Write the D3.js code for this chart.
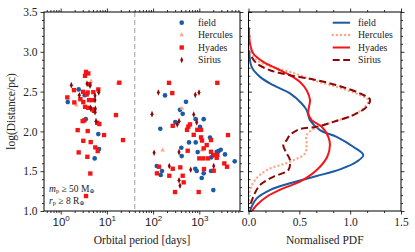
<!DOCTYPE html>
<html><head><meta charset="utf-8">
<script src="https://cdn.jsdelivr.net/npm/d3@7"></script>
<style>
html,body{margin:0;padding:0;background:#fff;}
svg{display:block;font-family:"Liberation Serif","DejaVu Serif",serif;}
</style></head>
<body><svg id="c" width="415" height="252"></svg>
<script>
// ---- data: [orbital period (days), log10(distance/pc)] ----
const fieldPts = [[2.45,2.527],[3.31,2.455],[1.42,2.368],[3.48,2.154],[6.51,1.966],[6.75,1.778],[5.44,1.661],
 [181,2.452],[515,2.371],[382,2.271],[437,2.221],[836,2.154],[1245,2.154],[302,2.117],[143,2.033],[1036,2.058],
 [1704,1.922],[599,1.862],[836,1.862],[408,1.794],[923,1.740],[416,1.690],[1979,1.703],[2381,1.744],[2630,1.753],
 [2905,1.769],[1818,1.674],[3600,1.711],[5837,1.624],[120,1.565],[156,1.502],[146,1.452],[819,1.531],[878,1.502],
 [1791,1.502],[1245,1.473],[1127,1.414],[2010,1.263]];
const herculesPts = [[4.53,2.631],[17.0,2.606],[2.18,2.330],[2.85,2.402],[422,2.289],[161,1.765],[1144,1.765]];
const hyadesPts = [[3.53,2.748],[3.96,2.728],[3.36,2.698],[18.6,2.612],[4.20,2.593],[1.94,2.518],[3.04,2.497],
 [3.84,2.489],[5.08,2.493],[6.51,2.527],[3.65,2.464],[1.39,2.427],[1.97,2.364],[3.08,2.368],[4.10,2.393],[4.83,2.393],
 [2.66,2.405],[3.36,2.309],[3.96,2.296],[4.83,2.276],[5.26,2.258],[15.7,2.205],[2.99,2.129],[3.24,2.138],[6.20,2.108],
 [6.85,2.092],[2.33,2.016],[3.84,2.004],[8.66,1.954],[22.3,1.891],[3.08,1.882],[4.46,1.866],[5.61,1.799],[6.32,1.753],
 [2.45,1.736],[3.77,1.681],[4.37,1.471],[3.53,1.188],
 [221,2.610],[2453,2.610],[260,2.481],[266,2.070],[629,2.088],[578,2.060],[542,2.020],[905,2.020],[1089,2.020],
 [757,1.957],[4180,1.954],[1089,1.925],[1144,1.885],[1791,1.891],[1446,1.828],[561,1.757],[1245,1.787],[1791,1.744],
 [2112,1.703],[2453,1.703],[1000,1.661],[1221,1.661],[1543,1.661],[2381,1.669],[3476,1.598],[3978,1.556],[134,1.556],
 [266,1.531],[388,1.548],[121,1.473],[224,1.443],[437,1.443],[1264,1.527],[2050,1.506],[459,1.360],[298,1.238],[970,1.238]];
const siriusPts = [[3.71,2.600],[1.70,2.581],[4.31,2.575],[6.65,2.489],[2.53,2.455],[5.53,2.449],[5.53,2.393],
 [4.46,2.296],[5.61,2.286],[5.53,2.242],[5.81,2.129],[130,2.489],[819,2.459],[985,2.489],[94.7,2.217],[757,2.213],
 [364,2.129],[334,2.088],[878,2.113],[105,1.731],[364,1.740],[224,1.565],[2050,1.565],[651,1.518],[364,1.385],[382,1.317]];

// ---- normalised PDFs: [pdf, log10(distance/pc)] ----
const pdfField = [[0.008,3.02],[0.031,2.81],[0.113,2.685],[0.244,2.58],[0.408,2.477],[0.523,2.351],[0.572,2.267],
 [0.588,2.205],[0.605,2.142],[0.703,2.016],[0.867,1.932],[1.030,1.807],[1.129,1.703],[1.064,1.619],[0.900,1.523],
 [0.671,1.439],[0.408,1.348],[0.211,1.263],[0.081,1.159],[0.031,1.054],[0.015,1.0]];
const pdfHercules = [[0.015,3.041],[0.064,2.916],[0.179,2.832],[0.408,2.748],[0.637,2.644],[0.867,2.560],[1.096,2.456],
 [1.178,2.393],[1.146,2.309],[1.030,2.205],[0.834,2.120],[0.654,2.04],[0.572,1.954],[0.572,1.828],[0.556,1.724],
 [0.408,1.619],[0.179,1.514],[0.064,1.389],[0.015,1.263],[0.008,1.097]];
const pdfHyades = [[0.005,3.305],[0.015,3.104],[0.047,2.979],[0.146,2.873],[0.277,2.790],[0.408,2.706],[0.506,2.622],
 [0.572,2.518],[0.605,2.393],[0.595,2.309],[0.588,2.226],[0.621,2.142],[0.720,2.058],[0.785,1.932],[0.801,1.828],
 [0.775,1.681],[0.671,1.514],[0.506,1.368],[0.342,1.285],[0.179,1.179],[0.081,1.075],[0.035,1.0]];
const pdfSirius = [[0.031,2.936],[0.081,2.853],[0.211,2.769],[0.408,2.706],[0.671,2.644],[0.900,2.568],[1.096,2.477],
 [1.195,2.401],[1.162,2.309],[1.030,2.205],[0.834,2.120],[0.671,2.058],[0.506,2.030],[0.408,1.954],[0.376,1.891],
 [0.342,1.828],[0.376,1.724],[0.408,1.640],[0.391,1.514],[0.244,1.430],[0.113,1.326],[0.047,1.179],[0.008,1.034]];

const seriesNames = ["field","Hercules","Hyades","Sirius"];
const colors = {field:"#1c5aa3", Hercules:"#fca88a", Hyades:"#f51515", Sirius:"#8a0808"};
const yTicks = [1.0,1.5,2.0,2.5,3.0,3.5];
const xTicksLog = [1,10,100,1000];
const xTicksPdf = [0,0.5,1.0,1.5];
const splitPeriod = 40;

const svg = d3.select("#c");
const L = {x0:44, x1:240}, R = {x0:248.5, x1:401}, T = 12, B = 211;
const y = d3.scaleLinear().domain([1,3.5]).range([B,T]);
const xL = d3.scaleLog().domain([0.435,7600]).range([L.x0,L.x1]);
const xR = d3.scaleLinear().domain([0,1.5]).range([R.x0,R.x1]);

function axisG(axis, tx, ty){
  const g = svg.append("g").attr("transform",`translate(${tx},${ty})`).call(axis);
  g.select(".domain").remove();
  g.selectAll("line").attr("stroke","#000").attr("stroke-width",0.8);
  g.selectAll("text").attr("font-size",11.5).attr("fill","#222").attr("font-family","Liberation Serif");
  return g;
}
const yMinor = d3.range(10,36).map(v=>v/10).filter(v=>Math.abs(v*2-Math.round(v*2))>1e-6);
const logMinor = [];
[0.1,1,10,100,1000].forEach(d=>{for(let k=2;k<=9;k++){const v=k*d; if(v>=0.435&&v<=7600) logMinor.push(v);}});
const pdfMinor = d3.range(0,31).map(i=>i*0.5/3).filter(v=>Math.abs(v*2-Math.round(v*2))>1e-6);

// Left panel axes
axisG(d3.axisLeft(y).tickValues(yTicks).tickSize(3.5).tickPadding(3).tickFormat(d3.format(".1f")), L.x0, 0);
axisG(d3.axisLeft(y).tickValues(yMinor).tickSize(2).tickFormat(""), L.x0, 0);
axisG(d3.axisRight(y).tickValues(yTicks).tickSize(3.5).tickFormat(""), L.x1, 0);
axisG(d3.axisRight(y).tickValues(yMinor).tickSize(2).tickFormat(""), L.x1, 0);
const bx = axisG(d3.axisBottom(xL).tickValues(xTicksLog).tickSize(3.5).tickPadding(4).tickFormat(""), 0, B);
bx.selectAll(".tick").append("text").attr("y",15).attr("text-anchor","middle").attr("font-size",11.5).attr("fill","#222")
  .each(function(d){ const t=d3.select(this); t.append("tspan").text("10");
     t.append("tspan").attr("dy",-5).attr("font-size",8).text(Math.round(Math.log10(d))); });
axisG(d3.axisBottom(xL).tickValues(logMinor).tickSize(2).tickFormat(""), 0, B);
axisG(d3.axisTop(xL).tickValues(xTicksLog).tickSize(3.5).tickFormat(""), 0, T);
axisG(d3.axisTop(xL).tickValues(logMinor).tickSize(2).tickFormat(""), 0, T);

// Right panel axes
axisG(d3.axisRight(y).tickValues(yTicks).tickSize(3.5).tickFormat(""), R.x0, 0);
axisG(d3.axisRight(y).tickValues(yMinor).tickSize(2).tickFormat(""), R.x0, 0);
axisG(d3.axisRight(y).tickValues(yTicks).tickSize(3.5).tickFormat(""), R.x1, 0);
axisG(d3.axisRight(y).tickValues(yMinor).tickSize(2).tickFormat(""), R.x1, 0);
axisG(d3.axisBottom(xR).tickValues(xTicksPdf).tickSize(3.5).tickPadding(3).tickFormat(d3.format(".1f")), 0, B);
axisG(d3.axisBottom(xR).tickValues(pdfMinor).tickSize(2).tickFormat(""), 0, B);
axisG(d3.axisTop(xR).tickValues(xTicksPdf).tickSize(3.5).tickFormat(""), 0, T);
axisG(d3.axisTop(xR).tickValues(pdfMinor).tickSize(2).tickFormat(""), 0, T);

// split line
svg.append("line").attr("x1",xL(splitPeriod)).attr("x2",xL(splitPeriod)).attr("y1",T).attr("y2",B)
  .attr("stroke","#bdbdbd").attr("stroke-width",1.4).attr("stroke-dasharray","5,3");

// markers
const gPts = svg.append("g");
const sym = {
  field: d3.symbol().type(d3.symbolCircle).size(17),
  Hercules: d3.symbol().type(d3.symbolTriangle).size(9),
  Hyades: d3.symbol().type(d3.symbolSquare).size(19),
};
function diamond(s){ return `M0,${-s*1.1}L${s*0.5},0L0,${s*1.1}L${-s*0.5},0Z`; }
function drawPts(data,name){
  gPts.selectAll(null).data(data).enter().append("path")
    .attr("transform",d=>`translate(${xL(d[0])},${y(d[1])})`)
    .attr("d", name==="Sirius" ? diamond(3) : sym[name]())
    .attr("fill",colors[name]);
}
drawPts(fieldPts,"field"); drawPts(herculesPts,"Hercules"); drawPts(hyadesPts,"Hyades"); drawPts(siriusPts,"Sirius");

// pdf curves
const line = d3.line().x(d=>xR(d[0])).y(d=>y(d[1])).curve(d3.curveCatmullRom.alpha(0.5));
const styles = {
  field:{w:2,dash:null,cap:"butt"},
  Hercules:{w:2.4,dash:"0.1,4",cap:"round"},
  Hyades:{w:2,dash:null,cap:"butt"},
  Sirius:{w:2,dash:"7,3.5",cap:"butt"}
};
svg.append("clipPath").attr("id","cr").append("rect").attr("x",R.x0).attr("y",T).attr("width",R.x1-R.x0).attr("height",B-T);
const gC = svg.append("g").attr("clip-path","url(#cr)");
[[pdfField,"field"],[pdfHercules,"Hercules"],[pdfHyades,"Hyades"],[pdfSirius,"Sirius"]].forEach(([d,n])=>{
  gC.append("path").attr("d",line(d)).attr("fill","none").attr("stroke",colors[n])
    .attr("stroke-width",styles[n].w).attr("stroke-dasharray",styles[n].dash).attr("stroke-linecap",styles[n].cap);
});

// frames
[[L.x0,L.x1],[R.x0,R.x1]].forEach(([a,b])=>svg.append("rect").attr("x",a).attr("y",T).attr("width",b-a).attr("height",B-T)
  .attr("fill","none").attr("stroke","#000").attr("stroke-width",1));

// legends
const rowY = [22.7,35,47.5,60];
const lg = svg.append("g");
seriesNames.forEach((n,i)=>{
  const p = lg.append("path").attr("transform",`translate(181.7,${rowY[i]})`).attr("fill",colors[n]);
  p.attr("d", n==="Sirius" ? diamond(3) : sym[n]());
  lg.append("text").attr("x",198).attr("y",rowY[i]+3.3).attr("font-size",9.8).attr("fill","#222").text(n);
  lg.append("line").attr("x1",332.7).attr("x2",350).attr("y1",rowY[i]).attr("y2",rowY[i])
    .attr("stroke",colors[n]).attr("stroke-width",styles[n].w).attr("stroke-dasharray",styles[n].dash).attr("stroke-linecap",styles[n].cap);
  lg.append("text").attr("x",358).attr("y",rowY[i]+3.3).attr("font-size",9.8).attr("fill","#222").text(n);
});

// annotation
function annot(yb, sym1, rest, big){
  const t = svg.append("text").attr("x",49).attr("y",yb).attr("font-size",9.5).attr("fill","#222");
  t.append("tspan").attr("font-style","italic").text(sym1);
  t.append("tspan").attr("font-size",6.5).attr("dy",1.3).text("p");
  t.append("tspan").attr("dy",-1.3).text(rest + big);
  t.append("tspan").attr("font-size",6).attr("dy",1.3).text("⊕");
}
annot(191.5, "m", " ≥ 50 ", "M");
annot(203.5, "r", " ≥ 8 ", "R");

// axis labels
svg.append("text").attr("transform",`translate(15,${(T+B)/2}) rotate(-90)`).attr("text-anchor","middle")
  .attr("font-size",11.5).attr("fill","#222").text("log(Distance/pc)");
svg.append("text").attr("x",(L.x0+L.x1)/2).attr("y",244).attr("text-anchor","middle")
  .attr("font-size",11.5).attr("fill","#222").text("Orbital period [days]");
svg.append("text").attr("x",(R.x0+R.x1)/2).attr("y",244).attr("text-anchor","middle")
  .attr("font-size",11.5).attr("fill","#222").text("Normalised PDF");
</script></body></html>
